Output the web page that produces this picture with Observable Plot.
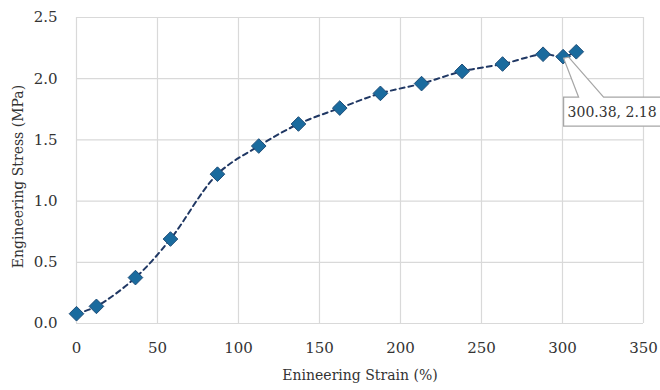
<!DOCTYPE html>
<html>
<head>
<meta charset="utf-8">
<script src="https://cdn.jsdelivr.net/npm/d3@7"></script>
<script src="https://cdn.jsdelivr.net/npm/@observablehq/plot@0.6"></script>
<style>
  html, body { margin: 0; padding: 0; background: #fff; }
  #chart svg { display: block; }
</style>
</head>
<body>
<div id="chart"></div>
<script>
// Data
const strain = [0, 12.3, 36.4, 58, 87, 112.5, 137, 162.5, 187.6, 213, 238, 263, 288, 300.38, 308.5];
const stress = [0.08, 0.14, 0.375, 0.69, 1.22, 1.45, 1.63, 1.76, 1.88, 1.96, 2.06, 2.12, 2.20, 2.18, 2.22];
const xTicks = [0, 50, 100, 150, 200, 250, 300, 350];
const yTicks = [0, 0.5, 1.0, 1.5, 2.0, 2.5];
const labelIndex = 13;
const xTitle = "Enineering Strain (%)";
const yTitle = "Engineering Stress (MPa)";

const data = strain.map((s, i) => ({strain: s, stress: stress[i]}));

const gridColor = "#d9d9d9";
const fontFam = "\"DejaVu Serif\", \"Liberation Serif\", serif";

const chart = Plot.plot({
  width: 660,
  height: 390,
  marginLeft: 76,
  marginRight: 17,
  marginTop: 17,
  marginBottom: 67,
  style: {fontFamily: fontFam, fontSize: "15px", color: "#333", background: "#fff"},
  x: {domain: [0, 350], ticks: xTicks},
  y: {domain: [0, 2.5], ticks: yTicks},
  marks: [
    Plot.gridX(xTicks, {stroke: gridColor, strokeOpacity: 1, strokeWidth: 1.2}),
    Plot.gridY(yTicks, {stroke: gridColor, strokeOpacity: 1, strokeWidth: 1.2}),
    Plot.axisX(xTicks, {tickSize: 0, tickPadding: 19, fontSize: 15, label: null, tickFormat: d => d}),
    Plot.axisY(yTicks, {tickSize: 0, tickPadding: 19, fontSize: 15, label: null, tickFormat: d3.format(".1f")}),
    Plot.text([xTitle], {frameAnchor: "bottom", dy: 56, fontSize: 14, text: d => d}),
    Plot.text([yTitle], {frameAnchor: "left", textAnchor: "middle", dx: -58, dy: 6, rotate: -90, fontSize: 14, text: d => d}),
    Plot.line(data, {x: "strain", y: "stress", curve: "catmull-rom", stroke: "#203864", strokeWidth: 2, strokeDasharray: "5,4"}),
    Plot.dot(data, {x: "strain", y: "stress", symbol: "diamond2", r: 6.6, fill: "#1a6b9e", stroke: "#1f4e79", strokeWidth: 1})
  ]
});

// Callout for the labelled point
(function () {
  const svg = d3.select(chart);
  const px = chart.scale("x").apply(strain[labelIndex]);
  const py = chart.scale("y").apply(stress[labelIndex]);
  const bl = px + 1, bt = py + 41, br = 662, bb = py + 70;
  const g = svg.append("g");
  g.append("path")
    .attr("d", `M${bl},${bb} L${bl},${bt} L${px + 16},${bt} L${px + 1},${py + 2} L${px + 6},${py + 1} L${px + 41},${bt} L${br},${bt} L${br},${bb} Z`)
    .attr("fill", "#fff")
    .attr("stroke", "#a6a6a6")
    .attr("stroke-width", 1.2);
  g.append("text")
    .attr("x", px + 5)
    .attr("y", py + 61)
    .attr("text-anchor", "start")
    .attr("font-size", 14)
    .attr("fill", "#333")
    .text(`${strain[labelIndex]}, ${stress[labelIndex]}`);
  svg.attr("font-family", fontFam).style("font-family", fontFam);
  svg.selectAll("text").style("font-family", fontFam);
})();

document.getElementById("chart").appendChild(chart);
</script>
</body>
</html>
